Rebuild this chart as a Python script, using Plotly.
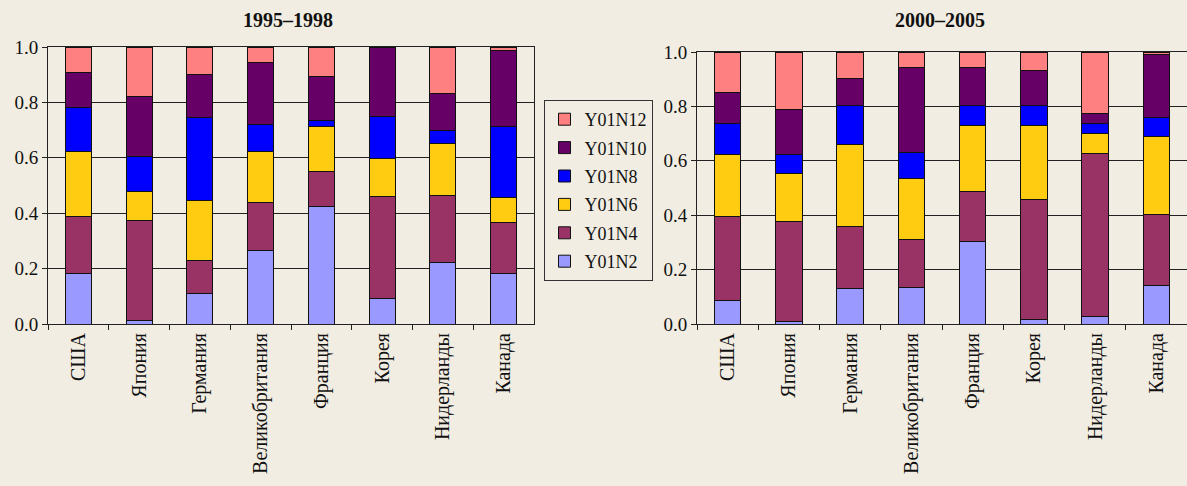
import plotly.graph_objects as go

categories = ["США", "Япония", "Германия", "Великобритания", "Франция", "Корея", "Нидерланды", "Канада"]
series_names = ["Y01N2", "Y01N4", "Y01N6", "Y01N8", "Y01N10", "Y01N12"]
colors = ["#9999FF", "#993366", "#FFCC11", "#0000FF", "#660066", "#FF8080"]

# 1995–1998
left_N2 = [0.183, 0.014, 0.111, 0.267, 0.424, 0.093, 0.222, 0.183]
left_N4 = [0.204, 0.358, 0.120, 0.173, 0.127, 0.368, 0.242, 0.184]
left_N6 = [0.235, 0.105, 0.214, 0.182, 0.161, 0.137, 0.186, 0.089]
left_N8 = [0.159, 0.129, 0.299, 0.099, 0.022, 0.152, 0.047, 0.256]
left_N10 = [0.128, 0.216, 0.157, 0.224, 0.161, 0.250, 0.136, 0.274]
left_N12 = [0.091, 0.178, 0.099, 0.055, 0.105, 0.000, 0.167, 0.014]

# 2000–2005
right_N2 = [0.087, 0.011, 0.130, 0.134, 0.304, 0.018, 0.029, 0.143]
right_N4 = [0.310, 0.365, 0.230, 0.175, 0.184, 0.439, 0.597, 0.259]
right_N6 = [0.228, 0.178, 0.301, 0.225, 0.242, 0.273, 0.073, 0.286]
right_N8 = [0.112, 0.071, 0.143, 0.097, 0.074, 0.074, 0.038, 0.071]
right_N10 = [0.115, 0.164, 0.097, 0.311, 0.138, 0.129, 0.036, 0.231]
right_N12 = [0.148, 0.211, 0.099, 0.058, 0.058, 0.067, 0.227, 0.010]

left = [left_N2, left_N4, left_N6, left_N8, left_N10, left_N12]
right = [right_N2, right_N4, right_N6, right_N8, right_N10, right_N12]

titles = ["1995–1998", "2000–2005"]
ytick_vals = [0, 0.2, 0.4, 0.6, 0.8, 1.0]

BG = "#F1EDE2"
FONT = "Liberation Serif"

fig = go.Figure()
n = len(series_names)
for i, name in enumerate(series_names):
    fig.add_trace(go.Bar(
        x=categories, y=left[i], name=name, legendgroup=name, legendrank=n - i,
        marker=dict(color=colors[i], line=dict(color="#111111", width=1)),
        xaxis="x", yaxis="y", showlegend=True,
    ))
for i, name in enumerate(series_names):
    fig.add_trace(go.Bar(
        x=categories, y=right[i], name=name, legendgroup=name, legendrank=n - i,
        marker=dict(color=colors[i], line=dict(color="#111111", width=1)),
        xaxis="x2", yaxis="y2", showlegend=False,
    ))

axis_common_x = dict(
    type="category", tickson="boundaries", ticks="outside", ticklen=5,
    tickcolor="#222", showline=True, linecolor="#222", linewidth=1, mirror=True,
    tickangle=-90, showgrid=False, automargin=False,
    tickfont=dict(family=FONT, size=20, color="#111"),
)
axis_common_y = dict(
    range=[0, 1.0], tickvals=ytick_vals, tickformat=".1f", ticks="outside", ticklen=5,
    tickcolor="#222", showline=True, linecolor="#222", linewidth=1, mirror=True,
    showgrid=True, gridcolor="#222", gridwidth=1, zeroline=False, automargin=False,
    tickfont=dict(family=FONT, size=19, color="#111"),
)

fig.update_layout(
    width=1187, height=486,
    margin=dict(l=0, r=0, t=0, b=0, pad=0, autoexpand=False),
    paper_bgcolor=BG, plot_bgcolor=BG,
    barmode="stack", bargap=0.57,
    font=dict(family=FONT, color="#111"),
    xaxis=dict(domain=[48/1187, 534/1187], anchor="y", **axis_common_x),
    yaxis=dict(domain=[162/486, 439/486], anchor="x", **axis_common_y),
    xaxis2=dict(domain=[697/1187, 1.0], anchor="y2", **axis_common_x),
    yaxis2=dict(domain=[162/486, 434/486], anchor="x2", **axis_common_y),
    legend=dict(
        x=598/1187, y=1 - 100/486, xanchor="center", yanchor="top",
        traceorder="grouped", tracegroupgap=2,
        bordercolor="#333", borderwidth=1, bgcolor=BG,
        font=dict(family=FONT, size=18, color="#111"),
        itemwidth=30,
    ),
    annotations=[
        dict(text="<b>" + titles[0] + "</b>", x=288/1187, y=1 - 20/486, xref="paper", yref="paper",
             xanchor="center", yanchor="middle",
             showarrow=False, font=dict(family=FONT, size=20, color="#111")),
        dict(text="<b>" + titles[1] + "</b>", x=940/1187, y=1 - 20/486, xref="paper", yref="paper",
             xanchor="center", yanchor="middle",
             showarrow=False, font=dict(family=FONT, size=20, color="#111")),
    ],
)

fig.write_html(
    "out.html",
    config={"displayModeBar": False},
    post_script="document.body.style.margin='0';document.body.style.background='#F1EDE2';document.body.style.overflow='hidden';",
)
